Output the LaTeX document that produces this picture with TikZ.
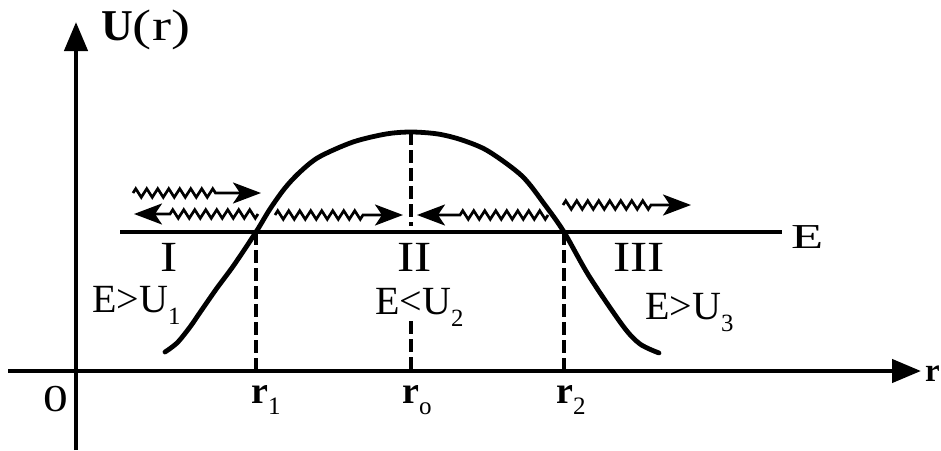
\documentclass[tikz,border=0pt]{standalone}
\usepackage{fontspec}
\setmainfont{Liberation Serif}
\usetikzlibrary{arrows.meta,decorations.pathmorphing}
\newcommand\lowsub[2][0.62]{\raisebox{-0.3em}{\scalebox{#1}{#2}}}
\begin{document}
\begin{tikzpicture}[x=1pt,y=-1pt,
  txt/.style={inner sep=0pt,anchor=base west},
  rlbl/.style={txt,font=\fontsize{38}{42}\selectfont\bfseries},
  rom/.style={txt,font=\fontsize{43}{46}\selectfont},
  cond/.style={txt,font=\fontsize{40}{44}\selectfont},
  axis/.style={line width=4.4pt,-{Triangle[length=29pt,width=23pt]}},
  dashline/.style={line width=3.4pt,dash pattern=on 13pt off 5pt},
  wave/.style={line width=2.7pt,-{Stealth[length=28pt,width=21pt,inset=7pt]},
    decorate,decoration={zigzag,segment length=11pt,amplitude=4.3pt,post length=38pt}}]
\useasboundingbox (0,0) rectangle (941,450);
% axes
\coordinate (ybot) at (76,450);
\coordinate (ytop) at (76,22);
\coordinate (xl) at (8,371);
\coordinate (xr) at (921,371);
\draw[axis] (ybot) -- (ytop);
\draw[axis] (xl) -- (xr);
% energy line
\coordinate (El) at (120,232);
\coordinate (Er) at (782,232);
\draw[line width=3.4pt] (El) -- (Er);
% potential curve
\coordinate (c0) at (165,352);
\coordinate (r1E) at (256,232);
\coordinate (peak) at (411,132);
\coordinate (r2E) at (564,232);
\coordinate (c9) at (659,353);
\draw[line width=4.8pt,line cap=round] plot[smooth,tension=0.5] coordinates
  {(c0) (177,343) (190,327) (201,311) (217,288) (234,265) (r1E) (270,209) (285,188)
   (300,172) (319,157) (353,142) (386,134) (peak) (438,134) (462,140) (488,151)
   (522,176) (545,205) (r2E) (589,276) (623,326) (640,344) (c9)};
% dashed verticals
\coordinate (r1A) at (256,371);
\coordinate (r0E) at (411,226);
\coordinate (r0B) at (411,321);
\coordinate (r0A) at (411,371);
\coordinate (r2A) at (564,371);
\draw[dashline] (r1E) -- (r1A);
\draw[dashline] (peak) -- (r0E);
\draw[dashline] (r0B) -- (r0A);
\draw[dashline] (r2E) -- (r2A);
% wavy arrows
\coordinate (a1s) at (133,193); \coordinate (a1e) at (261,193);
\coordinate (a2s) at (258,214); \coordinate (a2e) at (134,214);
\coordinate (a3s) at (275,215); \coordinate (a3e) at (403,215);
\coordinate (a4s) at (548,215); \coordinate (a4e) at (417,215);
\coordinate (a5s) at (563,205); \coordinate (a5e) at (691,205);
\draw[wave,decoration={post length=42pt}] (a1s) -- (a1e);
\draw[wave,decoration={post length=33pt}] (a2s) -- (a2e);
\draw[wave] (a3s) -- (a3e);
\draw[wave] (a4s) -- (a4e);
\draw[wave] (a5s) -- (a5e);
% labels
\node[txt,font=\fontsize{44}{48}\selectfont] (U) at (101,40) {\textbf{U}\scalebox{1.3}[1]{(r)}};
\node[txt,font=\fontsize{38}{42}\selectfont] (zero) at (43,411) {\scalebox{1.3}[1]{0}};
\node[rlbl] (r1) at (251,403) {r\lowsub[0.66]{\mdseries 1}};
\node[rlbl] (r0) at (402,403) {r\lowsub[0.66]{\mdseries o}};
\node[rlbl] (r2) at (556,403) {r\lowsub[0.66]{\mdseries 2}};
\node[txt,font=\fontsize{33}{36}\selectfont\bfseries] (rr) at (925,381) {r};
\node[rom] (I) at (160,271) {\scalebox{1.2}[1]{I}};
\node[rom] (II) at (397,271) {\scalebox{1.2}[1]{II}};
\node[rom] (III) at (613,271) {\scalebox{1.2}[1]{III}};
\node[txt,font=\fontsize{35}{40}\selectfont] (E) at (791,248) {\scalebox{1.5}[1]{E}};
\node[cond] (c1) at (92,312) {E>U\lowsub{1}};
\node[cond] (c2) at (375,314) {E<U\lowsub{2}};
\node[cond] (c3) at (645,319) {E>U\lowsub{3}};
\end{tikzpicture}
\end{document}
